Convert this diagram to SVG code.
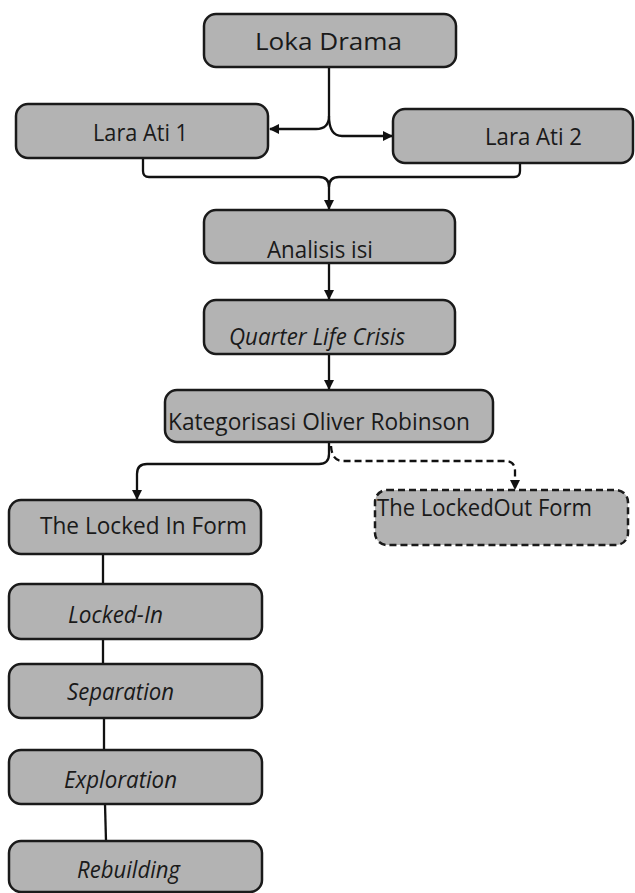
<svg xmlns="http://www.w3.org/2000/svg" width="635" height="893" viewBox="0 0 635 893">
<style>
.box{fill:#b3b3b3;stroke:#1a1a1a;stroke-width:2.5}
.dash{stroke-dasharray:7 4}
.t{font-family:"Open Sans","Noto Sans","Liberation Sans",sans-serif;fill:#1a1a1a;font-size:24px}
.i{font-style:italic;font-size:23px}
.c{fill:none;stroke:#111;stroke-width:2.3}
</style>
<defs>
<marker id="ah" viewBox="0 0 10 10" refX="9" refY="5" markerWidth="10" markerHeight="10" markerUnits="userSpaceOnUse" orient="auto">
<path d="M0,0 L10,5 L0,10 z" fill="#111"/>
</marker>
</defs>
<rect width="635" height="893" fill="#fff"/>
<g id="connectors">
<path class="c" d="M329,67 V116 Q329,129 316,129 H270" marker-end="url(#ah)"/>
<path class="c" d="M329,116 Q329,136 342,136 H392" marker-end="url(#ah)"/>
<path class="c" d="M143,158 V171 Q143,177 149,177 H319 Q329,177 329,187 V209" marker-end="url(#ah)"/>
<path class="c" d="M520,163 V171 Q520,177 514,177 H339 Q329,177 329,187"/>
<path class="c" d="M329,263 V299" marker-end="url(#ah)"/>
<path class="c" d="M329,354 V389" marker-end="url(#ah)"/>
<path class="c" d="M329,442 V454 Q329,464 319,464 H147 Q137,464 137,474 V499" marker-end="url(#ah)"/>
<path class="c dash" d="M331,446 Q332,461 343,461 H505 Q515,461 515,471 V489" marker-end="url(#ah)"/>
<path class="c" d="M103,554 V584"/>
<path class="c" d="M103,639 V664"/>
<path class="c" d="M104,718 V750"/>
<path class="c" d="M105,804 L106,841"/>
</g>
<g id="loka-drama"><rect class="box" x="204" y="14" width="252" height="53" rx="12"/><text class="t" x="255" y="50" font-size="27" textLength="147" lengthAdjust="spacingAndGlyphs">Loka Drama</text></g>
<g id="lara-ati-1"><rect class="box" x="16" y="104" width="252" height="54" rx="12"/><text class="t" x="93" y="141" textLength="95" lengthAdjust="spacingAndGlyphs">Lara Ati 1</text></g>
<g id="lara-ati-2"><rect class="box" x="393" y="109" width="240" height="54" rx="12"/><text class="t" x="485" y="145" textLength="97" lengthAdjust="spacingAndGlyphs">Lara Ati 2</text></g>
<g id="analisis-isi"><rect class="box" x="204" y="210" width="251" height="53" rx="12"/><text class="t" x="267" y="258" textLength="106" lengthAdjust="spacingAndGlyphs">Analisis isi</text></g>
<g id="quarter-life-crisis"><rect class="box" x="204" y="300" width="251" height="54" rx="12"/><text class="t i" x="229" y="345" textLength="176" lengthAdjust="spacingAndGlyphs">Quarter Life Crisis</text></g>
<g id="kategorisasi"><rect class="box" x="165" y="390" width="328" height="52" rx="12"/><text class="t" x="168" y="430" textLength="302" lengthAdjust="spacingAndGlyphs">Kategorisasi Oliver Robinson</text></g>
<g id="locked-in-form"><rect class="box" x="9" y="500" width="252" height="54" rx="12"/><text class="t" x="40" y="534" textLength="207" lengthAdjust="spacingAndGlyphs">The Locked In Form</text></g>
<g id="locked-out-form"><rect class="box dash" x="375" y="490" width="253" height="55" rx="12"/><text class="t" x="377" y="516" textLength="215" lengthAdjust="spacingAndGlyphs">The LockedOut Form</text></g>
<g id="locked-in"><rect class="box" x="9" y="584" width="253" height="55" rx="12"/><text class="t i" x="68" y="623" textLength="95" lengthAdjust="spacingAndGlyphs">Locked-In</text></g>
<g id="separation"><rect class="box" x="9" y="664" width="253" height="54" rx="12"/><text class="t i" x="67" y="700" textLength="107" lengthAdjust="spacingAndGlyphs">Separation</text></g>
<g id="exploration"><rect class="box" x="9" y="750" width="253" height="54" rx="12"/><text class="t i" x="64" y="788" textLength="113" lengthAdjust="spacingAndGlyphs">Exploration</text></g>
<g id="rebuilding"><rect class="box" x="9" y="841" width="253" height="51" rx="12"/><text class="t i" x="77" y="878" textLength="103" lengthAdjust="spacingAndGlyphs">Rebuilding</text></g>
</svg>
